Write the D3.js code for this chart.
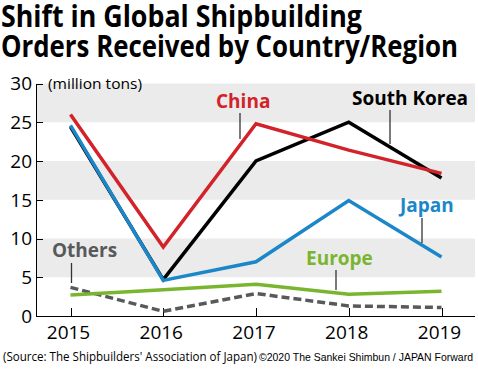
<!DOCTYPE html>
<html>
<head>
  <meta charset="UTF-8">
  <title>Shipbuilding Orders</title>
  <style>
    body { margin: 0; background: #fff; }
    svg { display: block; font-family: 'Open Sans', sans-serif; }
    .axis line, .axis path { stroke: #000; shape-rendering: crispEdges; }
  </style>
</head>
<body>
<svg id="chart"></svg>

<script src="https://d3js.org/d3.v7.min.js"></script>
<script>

// Data (million tons)
const years = [2015, 2016, 2017, 2018, 2019];
const china = [26.0, 8.9, 24.8, 21.4, 18.4];
const korea = [24.4, 4.7, 20.0, 25.0, 17.8];
const japan = [24.6, 4.6, 7.0, 14.9, 7.6];
const europe = [2.7, 3.4, 4.1, 2.8, 3.2];
const others = [3.7, 0.6, 2.9, 1.3, 1.1];
const yTicks = [0, 5, 10, 15, 20, 25, 30];
const bands = [[5, 10], [15, 20], [25, 30]];

let width = 478, height = 373;

let svg = d3.select("#chart")
    .attr("width", width)
    .attr("height", height);

// Scales
let x = d3.scaleLinear().domain([2015, 2019]).range([70.5, 441.5]);
let y = d3.scaleLinear().domain([0, 30]).range([316, 83.5]);
let left = 36, right = 475;

// Title
svg.append("text")
    .attr("x", 1).attr("y", 27)
    .attr("textLength", 361).attr("lengthAdjust", "spacingAndGlyphs")
    .style("font-size", "31px").style("font-weight", 700)
    .text("Shift in Global Shipbuilding");
svg.append("text")
    .attr("x", 1).attr("y", 57)
    .attr("textLength", 457).attr("lengthAdjust", "spacingAndGlyphs")
    .style("font-size", "31px").style("font-weight", 700)
    .text("Orders Received by Country/Region");

// Grey bands
svg.append("g")
    .selectAll("rect")
    .data(bands)
    .enter()
    .append("rect")
    .attr("x", left)
    .attr("width", right - left)
    .attr("y", d => y(d[1]))
    .attr("height", d => y(d[0]) - y(d[1]))
    .style("fill", "#ebebeb");

// Y axis (ticks pointing inwards)
let yAxis = d3.axisRight(y).tickValues(yTicks).tickSize(7).tickFormat("");
svg.append("g")
    .attr("class", "axis")
    .attr("transform", "translate(" + left + ",0)")
    .call(yAxis)
    .call(g => g.select(".domain").attr("d", "M0," + y(30) + "V" + y(0)));

svg.append("g")
    .selectAll("text")
    .data(yTicks)
    .enter()
    .append("text")
    .attr("x", 32)
    .attr("y", d => y(d))
    .attr("dy", "0.36em")
    .attr("text-anchor", "end")
    .style("font-size", "19px")
    .text(d => d);

svg.append("text")
    .attr("x", 48).attr("y", y(30) + 5)
    .attr("textLength", 94).attr("lengthAdjust", "spacingAndGlyphs")
    .style("font-size", "14px")
    .text("(million tons)");

// X axis (ticks pointing up)
let xAxis = d3.axisTop(x).tickValues(years).tickSize(8).tickFormat("");
svg.append("g")
    .attr("class", "axis")
    .attr("transform", "translate(0," + y(0) + ")")
    .call(xAxis)
    .call(g => g.select(".domain").attr("d", "M" + left + ",0H" + right));

svg.append("g")
    .selectAll("text")
    .data(years)
    .enter()
    .append("text")
    .attr("x", d => x(d) - 2)
    .attr("y", 339)
    .attr("text-anchor", "middle")
    .style("font-size", "19px")
    .text(d => d);

// Lines
let series = [
    { name: "Others", values: others, color: "#58595b", dash: "8,4" },
    { name: "Europe", values: europe, color: "#7ab530", dash: null },
    { name: "South Korea", values: korea, color: "#000000", dash: null },
    { name: "Japan", values: japan, color: "#1b87c9", dash: null },
    { name: "China", values: china, color: "#d2232a", dash: null }
];

let line = d3.line()
    .x((d, i) => x(years[i]))
    .y(d => y(d));

svg.append("g")
    .selectAll("path")
    .data(series)
    .enter()
    .append("path")
    .attr("d", d => line(d.values))
    .style("fill", "none")
    .style("stroke", d => d.color)
    .style("stroke-width", 3.5)
    .style("stroke-linejoin", "miter")
    .style("stroke-dasharray", d => d.dash);

// Series labels with leader lines
let labels = [
    { text: "China", color: "#d2232a", x: 216, y: 108, lx: 240, ly1: 113, ly2: 139 },
    { text: "South Korea", color: "#000000", x: 352, y: 105, lx: 390, ly1: 110, ly2: 144 },
    { text: "Japan", color: "#1b87c9", x: 400, y: 212, lx: 422, ly1: 218, ly2: 243 },
    { text: "Europe", color: "#7ab530", x: 306, y: 265, lx: 336, ly1: 270, ly2: 290 },
    { text: "Others", color: "#58595b", x: 52, y: 257, lx: 71.5, ly1: 263, ly2: 283 }
];

let lab = svg.append("g");
labels.forEach(function (l) {
    lab.append("text")
        .attr("x", l.x).attr("y", l.y)
        .style("font-size", "19px").style("font-weight", 700)
        .style("fill", l.color)
        .text(l.text);
    lab.append("line")
        .attr("x1", l.lx).attr("x2", l.lx)
        .attr("y1", l.ly1).attr("y2", l.ly2)
        .style("stroke", "#333")
        .style("stroke-width", 1.3);
});

// Source
svg.append("text")
    .attr("x", 3).attr("y", 361)
    .attr("textLength", 254).attr("lengthAdjust", "spacingAndGlyphs")
    .style("font-size", "12px")
    .text("(Source: The Shipbuilders' Association of Japan)");
svg.append("text")
    .attr("x", 259).attr("y", 361)
    .attr("textLength", 214).attr("lengthAdjust", "spacingAndGlyphs")
    .style("font-size", "10.5px")
    .style("font-family", "'Liberation Sans', Arial, sans-serif")
    .text("\u00A92020 The Sankei Shimbun / JAPAN Forward");

</script>
</body>
</html>
